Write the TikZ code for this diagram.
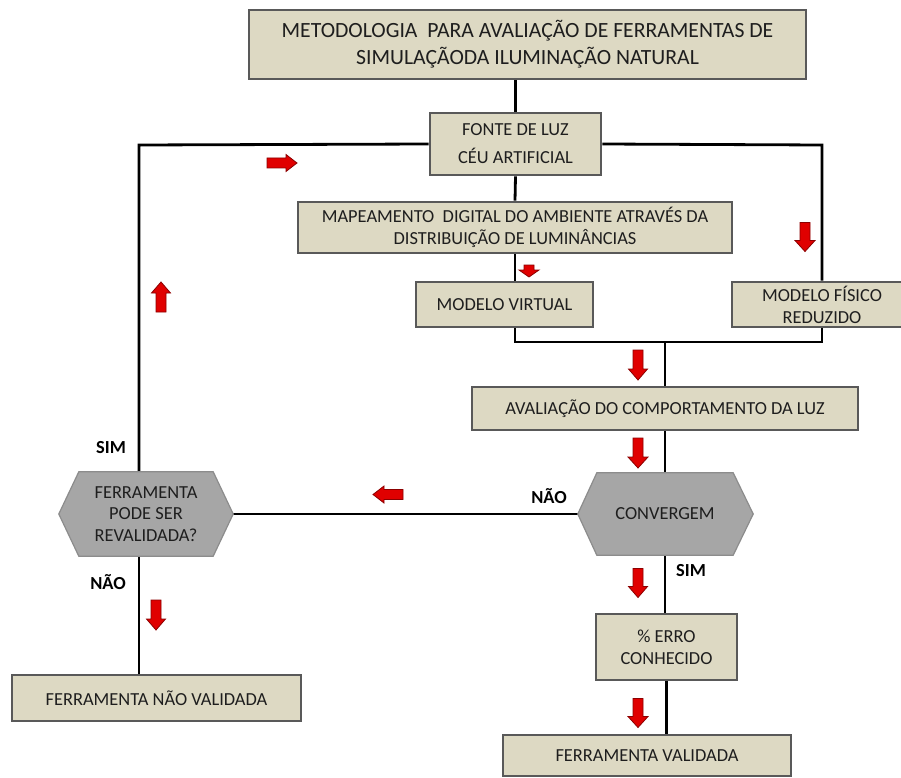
\documentclass[tikz,border=0pt]{standalone}
\usepackage{fontspec}
\setmainfont{Carlito}
\usetikzlibrary{backgrounds,calc}
\definecolor{boxfill}{HTML}{DDD9C3}
\definecolor{boxline}{HTML}{595959}
\definecolor{hexfill}{HTML}{A6A6A6}
\definecolor{hexline}{HTML}{8C8C8C}
\definecolor{txt}{HTML}{1E1E1E}
\definecolor{arrred}{HTML}{E00000}
\definecolor{arrdark}{HTML}{8B0000}
\begin{document}
\begin{tikzpicture}[x=1pt,y=-1pt,
  every node/.style={font=\fontsize{18.4}{22}\selectfont, text=txt, align=center, inner sep=0pt},
  box/.style={draw=boxline, fill=boxfill, line width=2.6pt},
  hexshape/.style={fill=hexfill, draw=hexline, line width=1.2pt, line join=miter},
  conn/.style={line width=2.8pt, black, line join=miter},
  lab/.style={font=\fontsize{18.4}{22}\selectfont\bfseries, text=black},
  arrowfill/.style={fill=arrred, draw=arrdark, line width=0.8pt, line join=miter},
  pics/redarr/.style n args={3}{code={
    \path[arrowfill] (-#1/2,-5) -- (#1/2-#3,-5) -- (#1/2-#3,-#2/2) -- (#1/2,0)
      -- (#1/2-#3,#2/2) -- (#1/2-#3,5) -- (-#1/2,5) -- cycle;}}
]
\useasboundingbox (0,0) rectangle (901,778);
\begin{scope}[on background layer]
  \fill[white] (0,0) rectangle (901,778);
\end{scope}

% boxes
\node[box, minimum width=557, minimum height=69,
      font=\fontsize{21.7}{27}\selectfont] (title) at (527.5,44.5)
  {METODOLOGIA~ PARA AVALIAÇÃO DE FERRAMENTAS DE\\SIMULAÇÃODA ILUMINAÇÃO NATURAL};
\node[box, minimum width=171, minimum height=62,
      font=\fontsize{18.4}{28}\selectfont] (fonte) at (515.5,144)
  {FONTE DE LUZ\\CÉU ARTIFICIAL};
\node[box, minimum width=434, minimum height=51] (mapa) at (515,227.5)
  {MAPEAMENTO~ DIGITAL DO AMBIENTE ATRAVÉS DA\\DISTRIBUIÇÃO DE LUMINÂNCIAS};
\node[box, minimum width=177, minimum height=45] (virtual) at (504.5,304.5)
  {MODELO VIRTUAL};
\node[box, minimum width=180, minimum height=45] (fisico) at (822,304.5)
  {MODELO FÍSICO\\REDUZIDO};
\node[box, minimum width=386, minimum height=43] (aval) at (665,408.5)
  {AVALIAÇÃO DO COMPORTAMENTO DA LUZ};
\node[box, minimum width=141, minimum height=66] (erro) at (666.5,647)
  {\% ERRO\\CONHECIDO};
\node[box, minimum width=289, minimum height=46] (nval) at (156.5,698)
  {FERRAMENTA NÃO VALIDADA};
\node[box, minimum width=288, minimum height=41] (val) at (647,755.5)
  {FERRAMENTA VALIDADA};

% decision hexagons: text nodes, outline drawn behind them
\node[minimum width=136, minimum height=82] (conv) at (665,514) {CONVERGEM};
\node[minimum width=134, minimum height=84, font=\fontsize{18.4}{21.5}\selectfont]
  (rev) at (146,514) {FERRAMENTA\\PODE SER\\REVALIDADA?};
\coordinate (convW) at ($(conv.west)+(-19,0)$);
\coordinate (convE) at ($(conv.east)+(20,0)$);
\coordinate (revW) at ($(rev.west)+(-20,0)$);
\coordinate (revE) at ($(rev.east)+(20,0)$);

% junction points
\coordinate (lc) at (139,145);
\coordinate (rc) at (822,145);
\coordinate (jl) at (515,342);
\coordinate (jr) at (822,342);
\coordinate (jm) at (665,342);

\begin{scope}[on background layer]
% connectors
\draw[conn] (fonte.north) -- (fonte.north |- title.south);
\draw[conn] (fonte.west) -- (lc) -- (lc |- rev.north);
\draw[conn] (lc |- rev.south) -- (lc |- nval.north);
\draw[conn] (fonte.east) -- (rc) -- (fisico.north);
\draw[conn] (fonte.south) -- (mapa.north);
\draw[conn] (mapa.south) -- (mapa.south |- virtual.north);
\draw[conn] (jl |- virtual.south) -- (jl) -- (jr) -- (fisico.south);
\draw[conn] (jm) -- (jm |- aval.north);
\draw[conn] (aval.south) -- (conv.north);
\draw[conn] (convW) -- (revE);
\draw[conn] (conv.south) -- (conv.south |- erro.north);
\draw[conn] (erro.south) -- (erro.south |- val.north);
% hexagon outlines
\path[hexshape] (conv.north west) -- (conv.north east) -- (convE)
  -- (conv.south east) -- (conv.south west) -- (convW) -- cycle;
\path[hexshape] (rev.north west) -- (rev.north east) -- (revE)
  -- (rev.south east) -- (rev.south west) -- (revW) -- cycle;
\end{scope}

% branch labels
\node[lab] (simrev) at (111,448) {SIM};
\node[lab] (naorev) at (108,582) {NÃO};
\node[lab] (naoconv) at (549,496) {NÃO};
\node[lab] (simconv) at (691,571) {SIM};

% red flow arrows
\pic at (282,163) {redarr={30}{17}{11}};
\pic[rotate=-90] at (805,237) {redarr={29}{20}{11}};
\pic[rotate=-90] at (529,271) {redarr={12}{20}{7}};
\pic[rotate=90] at (161,297) {redarr={30}{19}{11}};
\pic[rotate=-90] at (638,365) {redarr={30}{19}{11}};
\pic[rotate=-90] at (638,453) {redarr={30}{20}{11}};
\pic[rotate=180] at (388,494.5) {redarr={30}{17}{11}};
\pic[rotate=-90] at (638,583) {redarr={29}{19}{11}};
\pic[rotate=-90] at (156,615) {redarr={30}{19}{11}};
\pic[rotate=-90] at (638,713) {redarr={29}{20}{11}};
\end{tikzpicture}
\end{document}
